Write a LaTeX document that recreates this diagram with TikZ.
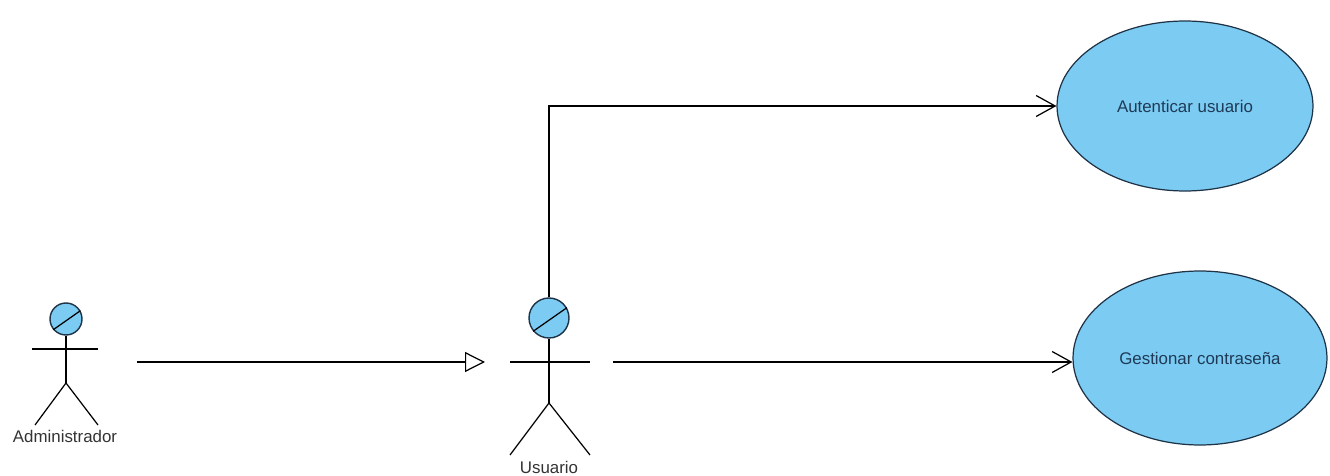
\documentclass[tikz,border=0pt]{standalone}
\usepackage{fontspec}
\setmainfont{Liberation Sans}
\usetikzlibrary{shapes.geometric,arrows.meta}
\definecolor{ucfill}{HTML}{7CCBF2}
\definecolor{ucline}{HTML}{1F3347}
\definecolor{uctext}{HTML}{1E3A56}
\tikzset{
  line/.style={draw=black, line width=0.7pt},
  usecase/.style={ellipse, draw=ucline, fill=ucfill, line width=0.7pt, inner sep=0pt,
    text=uctext, font=\fontsize{9.6pt}{11pt}\selectfont},
  head/.style={circle, draw=ucline, fill=ucfill, line width=0.8pt, inner sep=0pt},
  actorlabel/.style={text=black!80, font=\fontsize{9.6pt}{11pt}\selectfont, inner sep=0pt},
  genarrow/.style={line, -{Triangle[open, length=0.4cm, width=0.4cm, fill=white]}},
  assocarrow/.style={line, -{Straight Barb[length=0.38cm, width=0.42cm]}},
}
\begin{document}
\begin{tikzpicture}[x=0.02cm, y=-0.02cm]
\useasboundingbox (0,0) rectangle (1330,476);

% Administrador actor
\node[head, minimum size=0.64cm] (ahead) at (66,319) {};
\draw[line] (ahead.220) -- (ahead.30);
\coordinate (ahip) at (66,383);
\draw[line] (ahead.south) -- (ahip);
\coordinate (aarml) at (32,349);
\coordinate (aarmr) at (98,349);
\draw[line] (aarml) -- (aarmr);
\coordinate (alegl) at (35,425);
\coordinate (alegr) at (98,425);
\draw[line] (alegl) -- (ahip) -- (alegr);
\node[actorlabel] (alabel) at (65,436) {Administrador};

% Usuario actor
\node[head, minimum size=0.8cm] (uhead) at (549,318) {};
\draw[line] (uhead.220) -- (uhead.30);
\coordinate (uhip) at (549,403);
\draw[line] (uhead.south) -- (uhip);
\coordinate (uarml) at (510,362);
\coordinate (uarmr) at (590,362);
\draw[line] (uarml) -- (uarmr);
\coordinate (ulegl) at (510,455);
\coordinate (ulegr) at (590,455);
\draw[line] (ulegl) -- (uhip) -- (ulegr);
\node[actorlabel] (ulabel) at (549,467) {Usuario};

% Use cases
\node[usecase, minimum width=5.12cm, minimum height=3.4cm] (auth) at (1185,106) {Autenticar usuario};
\node[usecase, minimum width=5.08cm, minimum height=3.48cm] (gest) at (1200,358) {Gestionar contraseña};

% Connectors
\coordinate (genstart) at (137,362);
\coordinate (genend) at (485,362);
\draw[genarrow] (genstart) -- (genend);

\draw[assocarrow] (uhead.north) |- (auth.west);

\coordinate (assocstart) at (613,362);
\draw[assocarrow] (assocstart) -- (assocstart -| gest.west);
\end{tikzpicture}
\end{document}
